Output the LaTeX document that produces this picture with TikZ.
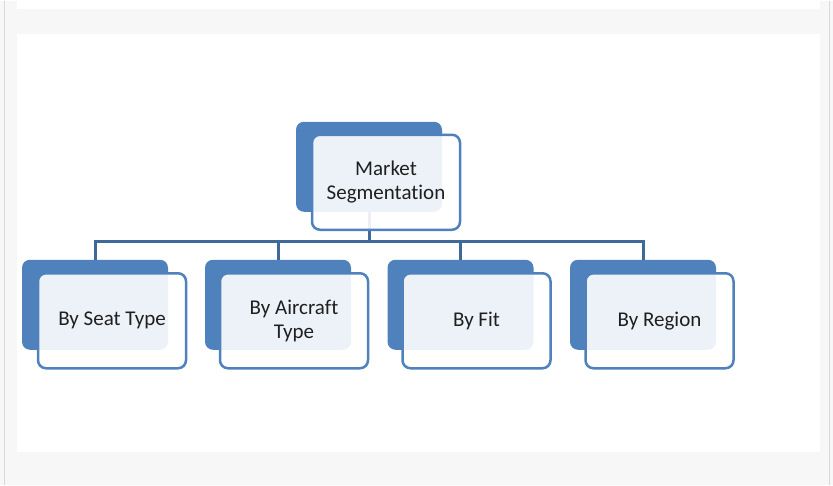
\documentclass[tikz,border=0pt]{standalone}
\usepackage{fontspec}
\setmainfont[Ligatures=NoCommon]{Carlito}
\usepackage{tikz}
\definecolor{segblue}{HTML}{4F81BD}
\definecolor{segline}{HTML}{3E6A9A}
\definecolor{pagegray}{HTML}{F7F7F7}

\begin{document}
\begin{tikzpicture}[x=1pt,y=-1pt,
    backbox/.style={fill=segblue, rounded corners=8pt, inner sep=0pt,
      minimum width=146pt, minimum height=90pt},
    frontbox/.style={draw=segblue, line width=2.5pt, fill=white,
      fill opacity=0.9, text opacity=1, rounded corners=8pt,
      minimum width=148pt, minimum height=95pt, align=center,
      font=\fontsize{21}{24}\selectfont, text=black!88},
    link/.style={draw=segline, line width=3pt}]
    % page
    \fill[pagegray] (0,0) rectangle (833,484);
    \fill[white] (17,0) rectangle (820,8);
    \fill[white] (17,33) rectangle (820,451);
    \draw[black!15, line width=1.5pt] (4.5,0) -- (4.5,484);
    \draw[black!15, line width=1.5pt] (829.5,0) -- (829.5,484);
    % back boxes
    \node[backbox] (mback) at (369,166) {};
    \node[backbox] (sback) at (95,304) {};
    \node[backbox] (aback) at (278,304) {};
    \node[backbox] (fback) at (460.5,304) {};
    \node[backbox] (rback) at (643,304) {};
    % connectors
    \coordinate (hub) at (369,241);
    \draw[link] (mback.south) -- (hub);
    \draw[link] (sback.north) |- (hub) -| (rback.north);
    \draw[link] (aback.north) -- (aback.north |- hub);
    \draw[link] (fback.north) -- (fback.north |- hub);
    % front boxes
    \node[frontbox] (market) at (386,181.5) {Market\\Segmentation};
    \node[frontbox] (seat) at (112,320) {By Seat Type};
    \node[frontbox] (aircraft) at (294,320) {By Aircraft\\Type};
    \node[frontbox] (fit) at (476.5,320) {By Fit};
    \node[frontbox] (region) at (659.5,320) {By Region};
\end{tikzpicture}
\end{document}
